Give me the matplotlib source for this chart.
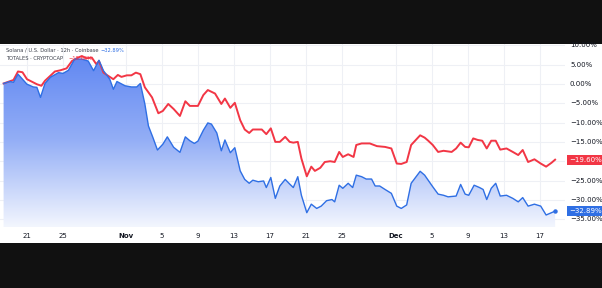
import numpy as np
import matplotlib
matplotlib.use("Agg")
import matplotlib.pyplot as plt
from matplotlib.patches import Rectangle

# days counted from Oct 18 (12h candles, change in %)
sol_days = [0.4, 1.1, 1.5, 2.0, 3.0, 3.7, 4.1, 4.5, 5.0, 5.6, 6.5, 7.0, 7.6, 8.3, 9.1, 9.8, 10.4,
            11.0, 11.5, 12.2, 12.6, 13.0, 13.9, 14.6, 15.2, 15.6, 16.1, 16.5, 17.0, 17.5, 18.1,
            18.6, 19.3, 20.0, 20.6, 21.1, 21.6, 22.0, 22.6, 23.1, 23.5, 24.1, 24.6, 25.0, 25.6,
            26.1, 26.7, 27.2, 27.7, 28.1, 28.7, 29.3, 29.6, 30.1, 30.6, 31.1, 31.7, 32.2, 32.6,
            33.1, 33.5, 34.1, 34.6, 35.2, 35.7, 36.3, 36.9, 37.2, 37.7, 38.1, 38.7, 39.2, 39.6,
            40.2, 40.7, 41.3, 41.7, 42.2, 42.8, 43.5, 44.1, 44.6, 45.2, 45.7, 46.7, 47.2, 47.8,
            48.1, 48.7, 49.3, 49.8, 50.7, 51.2, 51.7, 52.1, 52.7, 53.3, 53.7, 54.1, 54.6, 55.1,
            55.6, 56.3, 57.0, 57.6, 58.1, 58.7, 59.4, 60.1, 60.7, 61.3, 61.7]
sol_pct = [0.1, 0.6, 0.4, 2.5, -0.1, -0.8, -0.9, -3.5, 0.1, 1.7, 2.9, 2.7, 3.5, 6.4, 6.4, 5.9, 3.4,
           6.1, 3.4, 1.2, -1.4, 0.6, -0.5, -0.8, -0.8, 0.1, -5.2, -10.9, -13.9, -17.1, -15.6,
           -13.7, -16.4, -17.7, -13.7, -14.7, -15.4, -14.8, -12.0, -10.1, -10.4, -12.7, -17.3, -14.5, -17.8,
           -16.5, -22.5, -24.7, -25.7, -24.9, -25.3, -25.1, -26.8, -24.2, -29.6, -26.4, -24.7, -25.9, -26.8,
           -24.0, -28.8, -33.3, -31.1, -32.2, -31.6, -30.2, -29.9, -30.5, -26.2, -27.0, -25.7, -26.8, -23.6,
           -24.0, -24.6, -24.6, -26.4, -26.4, -27.3, -28.3, -31.6, -32.2, -31.3, -25.7, -22.6, -23.6, -25.6,
           -26.6, -28.5, -28.8, -29.2, -29.0, -26.0, -28.5, -28.8, -26.2, -26.8, -27.3, -29.9, -27.0, -25.7,
           -29.0, -28.8, -29.6, -30.5, -29.4, -31.6, -31.1, -31.6, -33.9, -33.3, -32.89]

tot_days = [0.4, 1.5, 2.0, 2.5, 3.0, 4.1, 4.6, 5.0, 5.6, 6.1, 6.7, 7.4, 8.0, 8.7, 9.1, 9.6, 10.2,
            10.7, 11.0, 11.5, 12.0, 12.6, 13.1, 13.5, 14.1, 14.6, 15.1, 15.6, 16.1, 16.9, 17.6,
            18.1, 18.7, 19.3, 20.0, 20.6, 21.1, 21.7, 22.0, 22.6, 23.1, 23.9, 24.6, 25.0, 25.6,
            26.1, 26.7, 27.2, 27.7, 28.1, 29.1, 29.6, 30.1, 30.6, 31.1, 31.7, 32.2, 32.6, 33.1,
            33.5, 34.1, 34.6, 35.0, 35.6, 36.1, 36.7, 37.2, 37.7, 38.1, 38.7, 39.3, 39.6, 40.2,
            41.1, 41.9, 42.8, 43.5, 44.1, 44.6, 45.2, 45.7, 46.7, 47.2, 47.6, 48.1, 48.7, 49.3,
            50.2, 50.7, 51.2, 51.7, 52.1, 52.6, 53.1, 53.6, 54.1, 54.6, 55.1, 55.6, 56.3, 57.0,
            57.6, 58.1, 58.7, 59.4, 60.1, 60.7, 61.3, 61.7]
tot_pct = [0.1, 1.0, 3.2, 3.0, 1.2, -0.1, -0.5, 0.8, 2.1, 3.2, 3.5, 4.0, 5.9, 6.8, 7.2, 6.6, 6.8,
           5.1, 5.9, 2.9, 2.1, 1.2, 2.3, 1.8, 2.2, 2.2, 2.9, 2.5, -0.9, -3.5, -7.6,
           -7.0, -5.2, -6.5, -8.3, -4.5, -5.7, -5.7, -5.7, -2.9, -1.6, -2.5, -5.2, -3.8, -6.2,
           -4.9, -9.4, -11.8, -12.7, -11.8, -11.8, -13.0, -11.5, -15.0, -15.0, -13.7, -15.0, -15.2, -15.0,
           -19.3, -23.9, -21.4, -22.5, -21.7, -20.2, -20.0, -20.2, -17.6, -18.9, -18.2, -18.9, -15.8, -15.4,
           -15.4, -16.1, -16.3, -16.7, -20.6, -20.7, -20.2, -15.8, -13.3, -13.9, -14.7, -15.8, -17.6, -17.3,
           -17.6, -16.7, -15.2, -16.3, -16.4, -14.1, -14.5, -14.7, -16.7, -14.7, -14.7, -17.0, -16.7, -17.6,
           -18.4, -17.1, -20.2, -19.5, -20.6, -21.4, -20.4, -19.6]

tick_days = [3, 7, 14, 18, 22, 26, 30, 34, 38, 44, 48, 52, 56, 60]
tick_labels = ["21", "25", "Nov", "5", "9", "13", "17", "21", "25", "Dec", "5", "9", "13", "17"]
y_ticks = [10, 5, 0, -5, -10, -15, -20, -25, -30, -35]

blue = "#2f6fe4"
red = "#f23645"
txt = "#131722"

fig = plt.figure(figsize=(6.02, 2.88), dpi=100, facecolor="#111111")
bg = fig.add_axes([0, 45 / 288, 1, 199 / 288], zorder=-5)
bg.set_facecolor("white")
bg.set_axis_off()
bg.add_patch(Rectangle((0, 0), 1, 1, transform=bg.transAxes, facecolor="white", edgecolor="none"))

ax = fig.add_axes([0, 61 / 288, 565 / 602, 183 / 288])
ax.set_facecolor("none")
ax.set_xlim(0, 62.8)
ax.set_ylim(-37.0, 10.3)

for v in y_ticks:
    ax.axhline(v, color="#eef0f5", lw=0.8, zorder=0)
for d in tick_days:
    ax.axvline(d, color="#eef0f5", lw=0.8, zorder=0)

# gradient area under the Solana line
poly = ax.fill_between(sol_days, sol_pct, -37.0, color="none", lw=0)
grad = np.linspace(0, 1, 256).reshape(-1, 1)
cmap = matplotlib.colors.LinearSegmentedColormap.from_list("g", ["#f3f6fe", "#93aef6", "#5f86f2"])
img = ax.imshow(grad, extent=[0, 62.8, -37.0, 8.0], origin="lower", aspect="auto",
                cmap=cmap, zorder=1)
img.set_clip_path(poly.get_paths()[0], transform=ax.transData)

ax.plot(tot_days, tot_pct, color=red, lw=1.4, zorder=3, solid_joinstyle="round")
ax.plot(sol_days, sol_pct, color=blue, lw=1.0, zorder=4, solid_joinstyle="round")
ax.plot(sol_days[-1], sol_pct[-1], "o", color=blue, ms=2.2, zorder=5)

for s in ax.spines.values():
    s.set_visible(False)
ax.set_xticks(tick_days)
ax.set_xticklabels(tick_labels)
for lab in ax.get_xticklabels():
    if lab.get_text() in ("Nov", "Dec"):
        lab.set_fontweight("bold")
ax.tick_params(axis="x", length=0, labelsize=5, colors=txt, pad=4)
ax.set_yticks([])

for v in y_ticks:
    if v == -20:
        continue
    ax.text(1.0 + 5 / 565, v, f"{v:.2f}%".replace("-", "\u2212"), transform=ax.get_yaxis_transform(),
            fontsize=5, color=txt, va="center", ha="left", clip_on=False)

for v, c in ((tot_pct[-1], red), (sol_pct[-1], blue)):
    ax.text(1.0 + 4 / 565, v, f"{v:.2f}%".replace("-", "\u2212"), transform=ax.get_yaxis_transform(),
            fontsize=5, color="white", va="center", ha="left", clip_on=False, zorder=10,
            bbox=dict(boxstyle="square,pad=0.3", facecolor=c, edgecolor="none"))

fig.text(6 / 602, 1 - 50 / 288, "Solana / U.S. Dollar \u00b7 12h \u00b7 Coinbase", fontsize=3.7,
         color="#3b3f4a", va="center", ha="left", zorder=20)
fig.text(100 / 602, 1 - 50 / 288, "\u221232.89%", fontsize=3.7, color=blue, va="center", ha="left",
         zorder=20)
fig.text(6 / 602, 1 - 59 / 288, "TOTALES \u00b7 CRYPTOCAP", fontsize=3.7, color="#3b3f4a",
         va="center", ha="left", zorder=20)
fig.text(68 / 602, 1 - 59 / 288, "\u221219.60%", fontsize=3.7, color=red, va="center", ha="left",
         zorder=20)

fig.savefig("out.png", dpi=100, facecolor=fig.get_facecolor())
